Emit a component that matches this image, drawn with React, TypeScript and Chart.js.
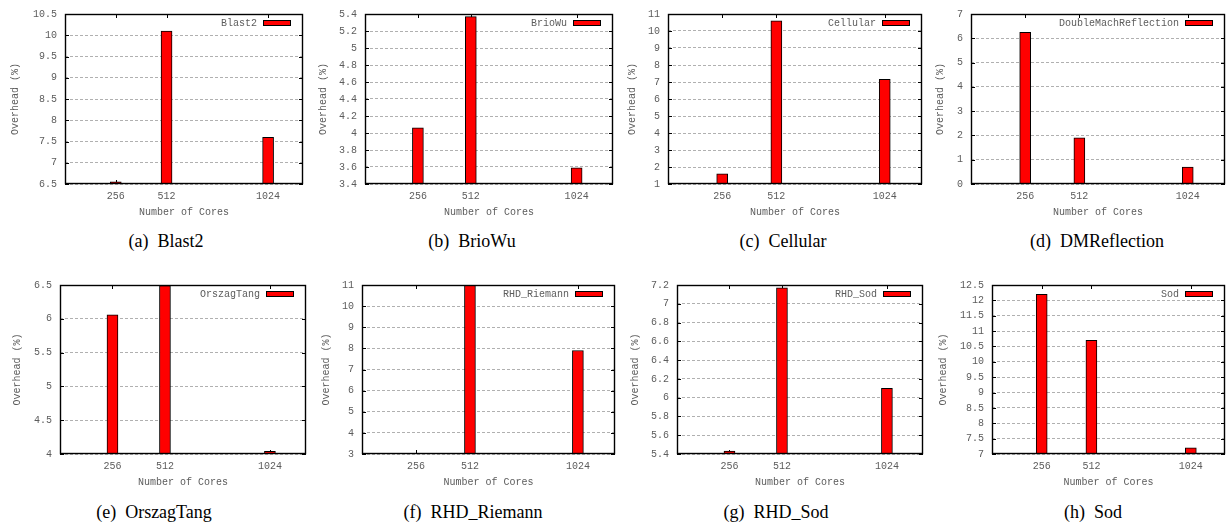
import React, { useEffect, useRef } from "react";
import { Chart, registerables } from "chart.js";

Chart.register(...registerables);

// ---------- data ----------
const CORES = [256, 512, 1024];
const X_TICKS = [256, 512, 1024];
const X_MIN = 0;
const X_MAX = 1200;

const blast2 = [6.55, 10.1, 7.6];
const brioWu = [4.06, 5.37, 3.59];
const cellular = [1.6, 10.6, 7.15];
const dmReflection = [6.25, 1.9, 0.7];
const orszagTang = [6.06, 6.49, 4.04];
const rhdRiemann = [2.5, 10.98, 7.9];
const rhdSod = [5.43, 7.17, 6.1];
const sod = [12.2, 10.7, 7.2];

const LEGEND_LABELS = ["Blast2", "BrioWu", "Cellular", "DoubleMachReflection", "OrszagTang", "RHD_Riemann", "RHD_Sod", "Sod"];
const CAPTION_LETTERS = ["(a)", "(b)", "(c)", "(d)", "(e)", "(f)", "(g)", "(h)"];
const CAPTION_NAMES = ["Blast2", "BrioWu", "Cellular", "DMReflection", "OrszagTang", "RHD_Riemann", "RHD_Sod", "Sod"];
const SERIES = [blast2, brioWu, cellular, dmReflection, orszagTang, rhdRiemann, rhdSod, sod];

// y axis ranges: [min, max, step]
const Y_MIN = [6.5, 3.4, 1, 0, 4, 3, 5.4, 7];
const Y_MAX = [10.5, 5.4, 11, 7, 6.5, 11, 7.2, 12.5];
const Y_STEP = [0.5, 0.2, 1, 1, 0.5, 1, 0.2, 0.5];

const X_TITLE = "Number of Cores";
const Y_TITLE = "Overhead (%)";

// ---------- layout (page pixels) ----------
const LAYOUT = [
  { L: 65, R: 303, T: 8, B: 184, ycx: 15, capX: 166, capY: 241 },
  { L: 365, R: 613, T: 8, B: 184, ycx: 323, capX: 472, capY: 241 },
  { L: 668, R: 922, T: 8, B: 184, ycx: 632, capX: 783, capY: 241 },
  { L: 971, R: 1225, T: 8, B: 184, ycx: 940, capX: 1097, capY: 241 },
  { L: 60, R: 306, T: 279, B: 454, ycx: 17, capX: 154, capY: 512 },
  { L: 362, R: 615, T: 279, B: 454, ycx: 326, capX: 473, capY: 512 },
  { L: 677, R: 923, T: 279, B: 454, ycx: 635, capX: 776, capY: 512 },
  { L: 992, R: 1225, T: 279, B: 454, ycx: 943, capX: 1093, capY: 512 },
];

const MONO = '"Liberation Mono", "DejaVu Sans Mono", monospace';
const TEXT_GRAY = "#5c5c5c";

const fmt = (v: number) => String(+Number(v).toFixed(3));

const framePlugin = {
  id: "gnuFrame",
  beforeDatasetsDraw(chart: any) {
    const { ctx, chartArea, scales } = chart;
    const { left, right, top, bottom } = chartArea;
    const x = scales.x;
    const y = scales.y;
    ctx.save();
    ctx.strokeStyle = "#000";
    ctx.lineWidth = 1;
    ctx.beginPath();
    y.ticks.forEach((t: any) => {
      const py = Math.round(y.getPixelForValue(t.value)) + 0.5;
      ctx.moveTo(left, py);
      ctx.lineTo(left + 4, py);
      ctx.moveTo(right, py);
      ctx.lineTo(right - 4, py);
    });
    x.ticks.forEach((t: any) => {
      const px = Math.round(x.getPixelForValue(t.value)) + 0.5;
      ctx.moveTo(px, bottom);
      ctx.lineTo(px, bottom - 4);
      ctx.moveTo(px, top);
      ctx.lineTo(px, top + 4);
    });
    ctx.stroke();
    ctx.restore();
  },
  afterDatasetsDraw(chart: any) {
    const { ctx, chartArea } = chart;
    const { left, right, top, bottom } = chartArea;
    ctx.save();
    ctx.strokeStyle = "#000";
    ctx.lineWidth = 1.4;
    ctx.strokeRect(Math.round(left) + 0.5, Math.round(top) + 0.5, Math.round(right - left) - 1, Math.round(bottom - top) - 1);
    // legend (text, then sample box) in the top-right corner
    const ds = chart.data.datasets[0];
    const boxW = 28;
    const boxH = 5;
    const boxR = Math.round(right) - 12;
    const cy = Math.round(top) + 8.5;
    ctx.fillStyle = ds.backgroundColor;
    ctx.fillRect(boxR - boxW, cy - boxH / 2, boxW, boxH);
    ctx.lineWidth = 1;
    ctx.strokeRect(boxR - boxW + 0.5, Math.round(cy - boxH / 2) + 0.5, boxW - 1, boxH);
    ctx.font = `10px ${MONO}`;
    ctx.fillStyle = TEXT_GRAY;
    ctx.textAlign = "right";
    ctx.textBaseline = "middle";
    ctx.fillText(ds.label, boxR - boxW - 6, cy + 0.5);
    ctx.restore();
  },
};

function Panel({ idx }: { idx: number }) {
  const ref = useRef<HTMLCanvasElement>(null);
  const lay = LAYOUT[idx];
  const canvasLeft = lay.ycx - 6;
  const canvasTop = lay.T - 8;
  const canvasRight = lay.R + 8;
  const xTitleY = lay.B + 28;
  const canvasBottom = xTitleY + 6;
  const width = canvasRight - canvasLeft;
  const height = canvasBottom - canvasTop;

  useEffect(() => {
    if (!ref.current) return;
    const yMin = Y_MIN[idx];
    const yMax = Y_MAX[idx];
    const yStep = Y_STEP[idx];
    const chart = new Chart(ref.current, {
      type: "bar",
      data: {
        datasets: [
          {
            label: LEGEND_LABELS[idx],
            data: CORES.map((c, i) => ({ x: c, y: SERIES[idx][i] })),
            backgroundColor: "#ff0000",
            borderColor: "#000000",
            borderWidth: 1,
            borderSkipped: "start",
            barThickness: 11,
          },
        ],
      },
      options: {
        animation: false,
        responsive: false,
        maintainAspectRatio: false,
        events: [],
        layout: { padding: { top: 8, right: 8, left: 0, bottom: 0 } },
        plugins: {
          legend: { display: false },
          tooltip: { enabled: false },
        },
        scales: {
          x: {
            type: "linear",
            min: X_MIN,
            max: X_MAX,
            offset: false,
            grid: { display: false, drawTicks: false },
            border: { display: false },
            afterBuildTicks: (scale: any) => {
              scale.ticks = X_TICKS.map((v) => ({ value: v }));
            },
            afterFit: (scale: any) => {
              scale.height = canvasBottom - lay.B;
            },
            ticks: {
              autoSkip: false,
              maxRotation: 0,
              padding: 6,
              color: TEXT_GRAY,
              font: { family: MONO, size: 10 },
              callback: (v: any) => String(v),
            },
            title: {
              display: true,
              text: X_TITLE,
              color: TEXT_GRAY,
              font: { family: MONO, size: 10 },
              padding: 0,
            },
          },
          y: {
            type: "linear",
            min: yMin,
            max: yMax,
            grid: {
              display: true,
              drawTicks: false,
              color: "#b0b0b0",
              lineWidth: 1,
            },
            border: { display: false, dash: [3, 2] },
            afterBuildTicks: (scale: any) => {
              const n = Math.round((yMax - yMin) / yStep);
              const ticks = [];
              for (let k = 0; k <= n; k++) ticks.push({ value: +(yMin + k * yStep).toFixed(4) });
              scale.ticks = ticks;
            },
            afterFit: (scale: any) => {
              scale.width = lay.L - canvasLeft;
            },
            ticks: {
              autoSkip: false,
              padding: 8,
              color: TEXT_GRAY,
              font: { family: MONO, size: 10 },
              callback: (v: any) => fmt(v),
            },
            title: {
              display: true,
              text: Y_TITLE,
              color: TEXT_GRAY,
              font: { family: MONO, size: 10 },
              padding: 0,
            },
          },
        },
      } as any,
      plugins: [framePlugin as any],
    });
    return () => chart.destroy();
  }, [idx]);

  return (
    <div style={{ position: "absolute", left: canvasLeft, top: canvasTop, width, height }}>
      <canvas ref={ref} width={width} height={height} style={{ width, height, display: "block" }} />
    </div>
  );
}

function Caption({ idx }: { idx: number }) {
  const lay = LAYOUT[idx];
  return (
    <div
      style={{
        position: "absolute",
        left: lay.capX,
        top: lay.capY,
        transform: "translate(-50%, -50%)",
        fontFamily: '"Liberation Serif", "Times New Roman", serif',
        fontSize: 18,
        color: "#000",
        whiteSpace: "nowrap",
        lineHeight: 1,
      }}
    >
      <span>{CAPTION_LETTERS[idx]}</span>
      <span style={{ marginLeft: 9 }}>{CAPTION_NAMES[idx]}</span>
    </div>
  );
}

export default function App() {
  return (
    <div style={{ position: "absolute", left: 0, top: 0, width: 1232, height: 527, background: "#fff" }}>
      {LAYOUT.map((_, i) => (
        <React.Fragment key={i}>
          <Panel idx={i} />
          <Caption idx={i} />
        </React.Fragment>
      ))}
    </div>
  );
}
